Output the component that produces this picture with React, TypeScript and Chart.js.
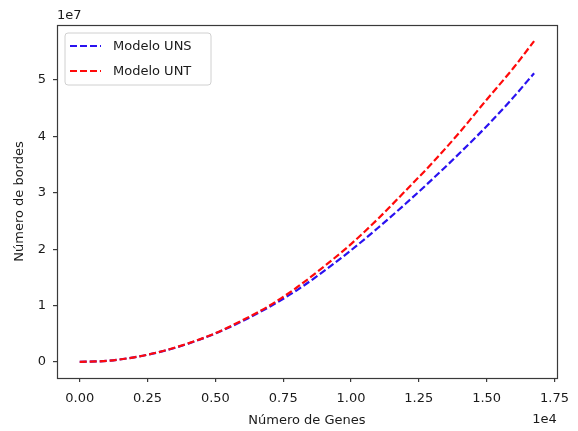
import React, { useEffect, useRef } from "react";
import { Chart, registerables } from "chart.js";

Chart.register(...registerables);

const genes = [0, 1000, 2000, 3000, 4000, 5000, 6000, 7000, 8000, 9000, 10000, 11000, 12000, 13000, 14000, 15000, 16000, 16750];
const unsValues = [0, 0.2e6, 0.82e6, 1.83e6, 3.25e6, 5.05e6, 7.25e6, 9.8e6, 12.7e6, 16.1e6, 19.8e6, 23.8e6, 28.0e6, 32.4e6, 37.0e6, 41.8e6, 47.0e6, 51.2e6];
const untValues = [0, 0.2e6, 0.82e6, 1.85e6, 3.3e6, 5.1e6, 7.4e6, 10.0e6, 13.2e6, 16.9e6, 20.9e6, 25.4e6, 30.3e6, 35.3e6, 40.7e6, 46.5e6, 52.2e6, 56.9e6];
const seriesNames = ["Modelo UNS", "Modelo UNT"];
const seriesColors = ["#2a12f0", "#ff0a0a"];
const xTicks = [0, 2500, 5000, 7500, 10000, 12500, 15000, 17500];
const xTickLabels = ["0.00", "0.25", "0.50", "0.75", "1.00", "1.25", "1.50", "1.75"];
const yTicks = [0, 1e7, 2e7, 3e7, 4e7, 5e7];
const yTickLabels = ["0", "1", "2", "3", "4", "5"];
const xTitle = "Número de Genes";
const yTitle = "Número de bordes";
const xOffsetLabel = "1e4";
const yOffsetLabel = "1e7";

const FONT = "'DejaVu Sans', sans-serif";
const AXIS_COLOR = "#3a3a3a";
const TEXT_COLOR = "#1a1a1a";

export default function App() {
  const ref = useRef<HTMLCanvasElement>(null);
  useEffect(() => {
    document.body.style.margin = "0";
    const canvas = ref.current!;
    const xMaxData = genes[genes.length - 1];
    const yMaxData = Math.max(...untValues, ...unsValues);
    const xm = xMaxData * 0.05;
    const ym = yMaxData * 0.05;

    const decor = {
      id: "decor",
      afterDraw(chart: any) {
        const ctx = chart.ctx;
        const a = chart.chartArea;
        ctx.save();
        ctx.strokeStyle = AXIS_COLOR;
        ctx.lineWidth = 1.2;
        ctx.strokeRect(Math.round(a.left) + 0.5, Math.round(a.top) + 0.5, Math.round(a.right - a.left), Math.round(a.bottom - a.top));
        ctx.fillStyle = TEXT_COLOR;
        ctx.font = `13px ${FONT}`;
        // offset labels
        ctx.textBaseline = "bottom";
        ctx.textAlign = "left";
        ctx.fillText(yOffsetLabel, a.left, a.top - 3);
        ctx.textAlign = "right";
        ctx.textBaseline = "middle";
        ctx.fillText(xOffsetLabel, a.right, 420);
        // axis titles
        ctx.textAlign = "center";
        ctx.fillText(xTitle, (a.left + a.right) / 2, 421);
        ctx.save();
        ctx.translate(20, (a.top + a.bottom) / 2);
        ctx.rotate(-Math.PI / 2);
        ctx.fillText(yTitle, 0, 0);
        ctx.restore();
        // legend
        const lx = a.left + 8, ly = a.top + 8, lw = 146, lh = 52;
        ctx.fillStyle = "rgba(255,255,255,0.85)";
        ctx.strokeStyle = "#d0d0d0";
        ctx.lineWidth = 1;
        ctx.beginPath();
        const r = 3;
        ctx.moveTo(lx + r, ly);
        ctx.lineTo(lx + lw - r, ly);
        ctx.arcTo(lx + lw, ly, lx + lw, ly + r, r);
        ctx.lineTo(lx + lw, ly + lh - r);
        ctx.arcTo(lx + lw, ly + lh, lx + lw - r, ly + lh, r);
        ctx.lineTo(lx + r, ly + lh);
        ctx.arcTo(lx, ly + lh, lx, ly + lh - r, r);
        ctx.lineTo(lx, ly + r);
        ctx.arcTo(lx, ly, lx + r, ly, r);
        ctx.closePath();
        ctx.fill();
        ctx.stroke();
        seriesNames.forEach((name, i) => {
          const yy = ly + 13 + i * 25;
          ctx.strokeStyle = seriesColors[i];
          ctx.lineWidth = 2.2;
          ctx.setLineDash([7, 3]);
          ctx.beginPath();
          ctx.moveTo(lx + 5, yy);
          ctx.lineTo(lx + 36, yy);
          ctx.stroke();
          ctx.setLineDash([]);
          ctx.fillStyle = TEXT_COLOR;
          ctx.textAlign = "left";
          ctx.textBaseline = "middle";
          ctx.fillText(name, lx + 48, yy + 1);
        });
        ctx.restore();
      },
    };

    const chart = new Chart(canvas, {
      type: "line",
      data: {
        datasets: [
          {
            label: seriesNames[0],
            data: genes.map((g, i) => ({ x: g, y: unsValues[i] })),
            borderColor: seriesColors[0],
            borderWidth: 2.2,
            borderDash: [7, 3],
            pointRadius: 0,
            cubicInterpolationMode: "monotone",
            fill: false,
            order: 1,
          },
          {
            label: seriesNames[1],
            data: genes.map((g, i) => ({ x: g, y: untValues[i] })),
            borderColor: seriesColors[1],
            borderWidth: 2.2,
            borderDash: [7, 3],
            pointRadius: 0,
            cubicInterpolationMode: "monotone",
            fill: false,
            order: 0,
          },
        ],
      },
      options: {
        responsive: false,
        animation: false,
        layout: { padding: { top: 25, right: 16, left: 0, bottom: 0 } },
        plugins: { legend: { display: false }, tooltip: { enabled: false } },
        scales: {
          x: {
            type: "linear",
            min: -xm,
            max: xMaxData + xm,
            afterBuildTicks: (s: any) => {
              s.ticks = xTicks.map((v) => ({ value: v }));
            },
            afterFit: (s: any) => {
              s.height = 53;
            },
            grid: { drawOnChartArea: false, drawTicks: true, tickLength: 4, color: AXIS_COLOR, lineWidth: 1.2 },
            border: { display: false },
            ticks: {
              autoSkip: false,
              maxRotation: 0,
              padding: 9,
              color: TEXT_COLOR,
              font: { family: FONT, size: 13 },
              callback: (v: any) => {
                const i = xTicks.indexOf(Number(v));
                return i >= 0 ? xTickLabels[i] : "";
              },
            },
          },
          y: {
            type: "linear",
            min: -ym,
            max: yMaxData + ym,
            afterBuildTicks: (s: any) => {
              s.ticks = yTicks.map((v) => ({ value: v }));
            },
            afterFit: (s: any) => {
              s.width = 57;
            },
            grid: { drawOnChartArea: false, drawTicks: true, tickLength: 4, color: AXIS_COLOR, lineWidth: 1.2 },
            border: { display: false },
            ticks: {
              autoSkip: false,
              padding: 7,
              color: TEXT_COLOR,
              font: { family: FONT, size: 13 },
              callback: (v: any) => {
                const i = yTicks.indexOf(Number(v));
                return i >= 0 ? yTickLabels[i] : "";
              },
            },
          },
        },
      },
      plugins: [decor],
    } as any);
    return () => chart.destroy();
  }, []);
  return <canvas ref={ref} width={578} height={431} style={{ display: "block" }} />;
}
